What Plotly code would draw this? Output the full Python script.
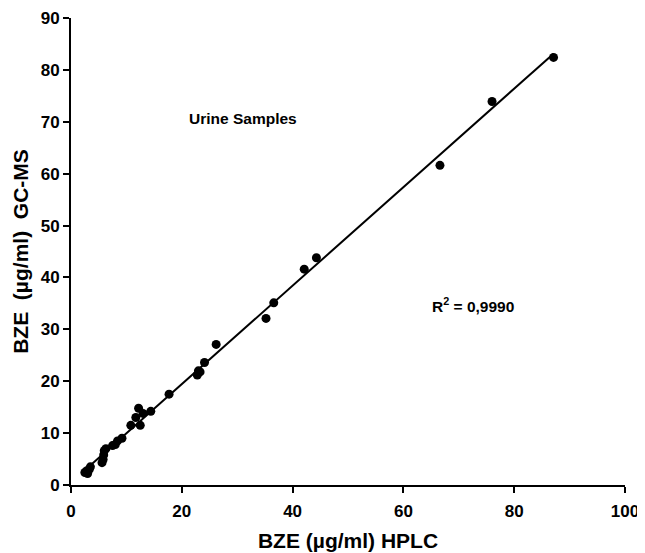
import numpy as np
import plotly.graph_objects as go

hplc = [2.5, 2.8, 3.0, 3.3, 3.5, 5.6, 5.8, 5.9, 6.0, 6.3, 7.5, 8.0, 8.4, 9.2,
        10.8, 11.7, 12.2, 12.5, 13.0, 14.4, 17.7, 22.8, 23.0, 23.3, 24.1, 26.2,
        35.2, 36.6, 42.1, 44.3, 66.6, 76.0, 87.1]
gcms = [2.4, 2.7, 2.2, 3.0, 3.5, 4.3, 4.9, 5.8, 6.6, 7.0, 7.6, 7.8, 8.5, 9.0,
        11.5, 13.0, 14.8, 11.5, 13.8, 14.2, 17.5, 21.2, 22.0, 21.8, 23.6, 27.1,
        32.1, 35.1, 41.6, 43.8, 61.6, 73.9, 82.4]
x_ticks = [0, 20, 40, 60, 80, 100]
y_ticks = [0, 10, 20, 30, 40, 50, 60, 70, 80, 90]

slope, intercept = np.polyfit(hplc, gcms, 1)
fx = [min(hplc), max(hplc)]
fy = [slope * v + intercept for v in fx]

font = "Liberation Sans, Arial, sans-serif"
fig = go.Figure()
fig.add_trace(go.Scatter(x=fx, y=fy, mode="lines",
                         line=dict(color="black", width=2), showlegend=False))
fig.add_trace(go.Scatter(x=hplc, y=gcms, mode="markers",
                         marker=dict(color="black", size=9), showlegend=False))

fig.add_annotation(x=31.0, y=70.6, text="<b>Urine Samples</b>", showarrow=False,
                   font=dict(family=font, size=15.5, color="black"))
fig.add_annotation(x=72.6, y=34.6, text="<b>R<sup>2</sup> = 0,9990</b>", showarrow=False,
                   font=dict(family=font, size=15.5, color="black"))

axis_common = dict(showline=True, linecolor="black", linewidth=2, ticks="outside",
                   ticklen=6, tickwidth=2, tickcolor="black", showgrid=False,
                   zeroline=False, mirror=False, automargin=False,
                   tickfont=dict(family=font, size=17, color="black", weight="bold"))

fig.update_layout(
    width=637, height=545,
    margin=dict(l=63, r=20, t=10, b=68),
    paper_bgcolor="white", plot_bgcolor="white",
    xaxis=dict(range=[0, 100], tickvals=x_ticks, ticklabelstandoff=4, **axis_common,
               title=dict(text="<b>BZE (µg/ml) HPLC</b>", standoff=13,
                          font=dict(family=font, size=21, color="black"))),
    yaxis=dict(range=[0, 90], tickvals=y_ticks, **axis_common,
               title=dict(text="<b>BZE  (µg/ml)  GC-MS</b>", standoff=6,
                          font=dict(family=font, size=21, color="black"))),
)
fig.write_html("out.html")
